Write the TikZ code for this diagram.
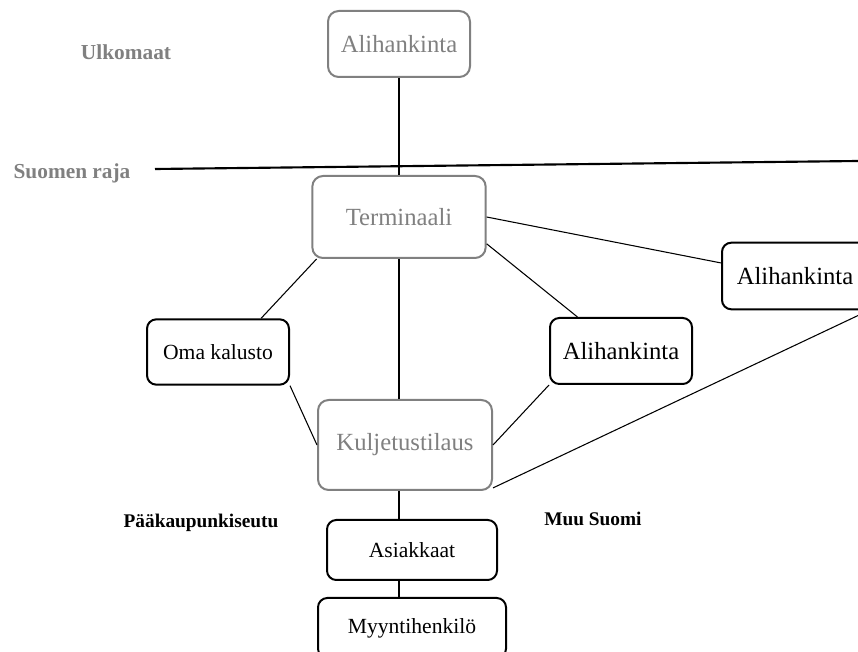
\documentclass[tikz,border=0pt]{standalone}
\usepackage{fontspec}
\setmainfont{Liberation Serif}
\begin{document}
\begin{tikzpicture}[x=0.75pt,y=-0.75pt,
  graybox/.style={draw=black!50,text=black!50,line width=1.5pt,rounded corners=8pt,
    font=\fontsize{18.5}{20}\selectfont},
  blackbox/.style={draw=black,line width=1.5pt,rounded corners=7pt,
    font=\fontsize{16.2}{18}\selectfont},
  lbl/.style={font=\fontsize{14.5}{17}\selectfont\bfseries}]
\useasboundingbox (0,0) rectangle (858,652);
%
\node[graybox,minimum width=106.5pt,minimum height=49.5pt](ylaalih) at (399,44) {Alihankinta};
\node[graybox,minimum width=130pt,minimum height=61.5pt](term) at (399,217) {Terminaali};
\node[blackbox,minimum width=106.5pt,minimum height=49pt](oma) at (218,352) {Oma kalusto};
\node[blackbox,font=\fontsize{18.5}{20}\selectfont,minimum width=106.5pt,minimum height=49.5pt](keskialih) at (621,351) {Alihankinta};
\node[blackbox,font=\fontsize{18.5}{20}\selectfont,minimum width=109.5pt,minimum height=50pt](oikalih) at (795,276) {Alihankinta};
\node[graybox,minimum width=130.5pt,minimum height=67.5pt](kulj) at (405,445) {Kuljetustilaus};
\node[blackbox,minimum width=127.5pt,minimum height=45pt](asiak) at (412,550) {Asiakkaat};
\node[blackbox,minimum width=141pt,minimum height=45pt](myyn) at (412,628) {Myyntihenkilö};
%
\node[lbl,text=black!50,font=\fontsize{16}{18}\selectfont\bfseries] at (126,52) {Ulkomaat};
\node[lbl,text=black!50,font=\fontsize{16}{18}\selectfont\bfseries] at (72,173) {Suomen raja};
\node[lbl] at (201,523) {Pääkaupunkiseutu};
\node[lbl] at (593,519) {Muu Suomi};
%
\coordinate (rajaA) at (155,169);
\coordinate (rajaB) at (858,161);
\draw[line width=1.6pt](rajaA)--(rajaB);
%
\draw[line width=0.8pt](ylaalih.south)--(term.north);
\draw[line width=0.8pt](term.east)--(oikalih.170);
\draw[line width=0.8pt](term.-17)--(keskialih.142);
\draw[line width=0.8pt](term.207)--(oma.38);
\draw[line width=1.8pt](term.south)--(term.south |- kulj.north);
\draw[line width=0.8pt](oma.south east)--(kulj.west);
\draw[line width=0.8pt](keskialih.south west)--(kulj.east);
\draw[line width=0.8pt](oikalih.south east)--(kulj.-26);
\draw[line width=1.8pt](kulj.south -| term.south)--(term.south |- asiak.north);
\draw[line width=1.8pt](asiak.south -| term.south)--(term.south |- myyn.north);
\end{tikzpicture}
\end{document}
